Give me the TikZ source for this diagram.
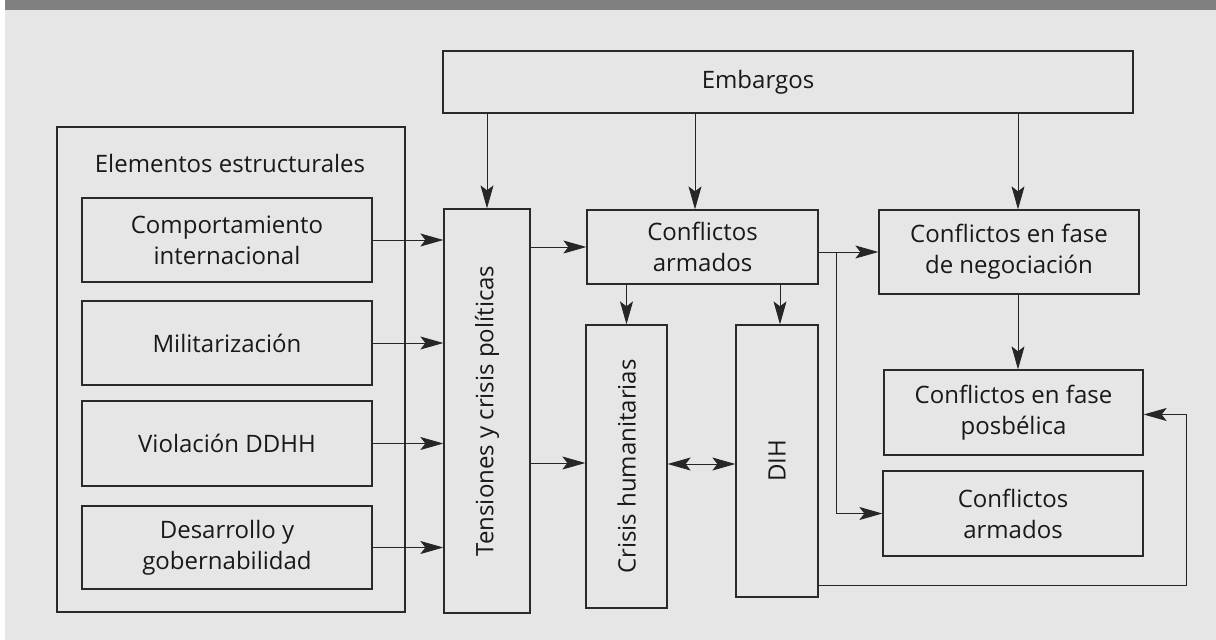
\documentclass[tikz,border=0pt]{standalone}
\usepackage{fontspec}
\setmainfont{Open Sans}
\usetikzlibrary{arrows.meta}
\definecolor{bgc}{HTML}{E6E6E6}
\definecolor{barc}{HTML}{808080}
\definecolor{linec}{HTML}{2A2A2A}
\begin{document}
\begin{tikzpicture}[x=1pt,y=-1pt,
  box/.style={draw=linec,line width=1.3pt,inner sep=0pt,align=center,
    font=\fontsize{24}{31}\selectfont,text=black!90},
  tip/.style={Stealth[length=23pt,width=13pt,inset=5pt]},
  arr/.style={draw=black!85,line width=0.9pt,-{Stealth[length=23pt,width=13pt,inset=5pt]}},
  darr/.style={draw=black!85,line width=0.9pt,{Stealth[length=23pt,width=13pt,inset=5pt]}-{Stealth[length=23pt,width=13pt,inset=5pt]}},
  ln/.style={draw=black!85,line width=0.9pt}]
\useasboundingbox (0,0) rectangle (1216,640);
\fill[white] (0,0) rectangle (1216,640);
\fill[bgc] (5,10) rectangle (1216,640);
\fill[barc] (5,0) rectangle (1216,10);
% left container
\node[box,minimum width=348pt,minimum height=485pt] (estr) at (231,369.5) {};
\node[font=\fontsize{24}{31}\selectfont,text=black!90,inner sep=0pt] (estrt) at (230,163) {Elementos estructurales};
\node[box,minimum width=290pt,minimum height=84pt] (comp) at (227,240) {Comportamiento\\internacional};
\node[box,minimum width=290pt,minimum height=84pt] (mil) at (227,343) {Militarización};
\node[box,minimum width=290pt,minimum height=85pt] (viol) at (227,443.5) {Violación DDHH};
\node[box,minimum width=290pt,minimum height=83pt] (des) at (227,547.5) {Desarrollo y\\gobernabilidad};
% tensions
\node[box,minimum width=86pt,minimum height=404pt] (tens) at (487,411) {};
\node[rotate=90,font=\fontsize{24}{31}\selectfont,text=black!90,inner sep=0pt] (tenst) at (tens.center) {Tensiones y crisis políticas};
% embargos
\node[box,minimum width=690pt,minimum height=62pt,label={[xshift=-30pt,font=\fontsize{24}{31}\selectfont,text=black!90]center:Embargos}] (emb) at (788,82) {};
% conflicts
\node[box,minimum width=231pt,minimum height=74pt] (ca) at (702.5,247) {Conflictos\\armados};
\node[box,minimum width=260pt,minimum height=84pt] (neg) at (1009,252) {Conflictos en fase\\de negociación};
\node[box,minimum width=259pt,minimum height=85pt] (pos) at (1013.5,412.5) {Conflictos en fase\\posbélica};
\node[box,minimum width=260pt,minimum height=85pt] (ca2) at (1013,513.5) {Conflictos\\armados};
\node[box,minimum width=81pt,minimum height=283pt] (cris) at (626.5,466.5) {};
\node[rotate=90,font=\fontsize{24}{31}\selectfont,text=black!90,inner sep=0pt] (crist) at (cris.center) {Crisis humanitarias};
\node[box,minimum width=82pt,minimum height=272pt] (dih) at (777,461) {};
\node[rotate=90,font=\fontsize{24}{31}\selectfont,text=black!90,inner sep=0pt] (diht) at (dih.center) {DIH};
% arrows left
\draw[arr] (comp.east) -- (comp.east -| tens.west);
\draw[arr] (mil.east) -- (mil.east -| tens.west);
\draw[arr] (viol.east) -- (viol.east -| tens.west);
\draw[arr] (des.east) -- (des.east -| tens.west);
% embargos arrows
\draw[arr] (tens.north |- emb.south) -- (tens.north);
\draw[arr] ([xshift=-7.5pt]ca.north |- emb.south) -- ([xshift=-7.5pt]ca.north);
\draw[arr] ([xshift=9pt]neg.north |- emb.south) -- ([xshift=9pt]neg.north);
% tensions arrows
\draw[arr] (tens.east |- ca.west) -- (ca.west);
\draw[arr] (tens.east |- 0,463) -- (cris.west |- 0,463);
\draw[darr] (cris.east |- 0,464) -- (dih.west |- 0,464);
% ca down
\draw[arr] (cris.north |- ca.south) -- (cris.north);
\draw[arr] ([xshift=3pt]dih.north |- ca.south) -- ([xshift=3pt]dih.north);
% ca right
\draw[arr] (ca.east |- neg.west) -- (neg.west);
\coordinate (br) at (836,252);
\draw[arr] (br) |- (ca2.west);
\draw[arr] ([xshift=9pt]neg.south) -- ([xshift=9pt]neg.south |- pos.north);
% DIH loop
\coordinate (lp) at (1186,585);
\draw[arr] (dih.east |- lp) -- (lp) |- ([yshift=-2pt]pos.east);
\end{tikzpicture}
\end{document}
